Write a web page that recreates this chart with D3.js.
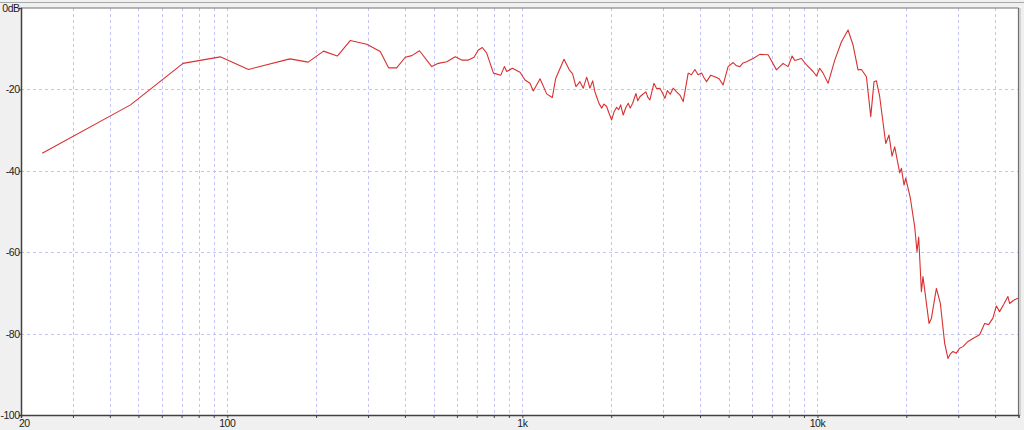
<!DOCTYPE html>
<html>
<head>
<meta charset="utf-8">
<script src="https://cdn.jsdelivr.net/npm/d3@7"></script>
<style>
html,body{margin:0;padding:0;background:#f0f0f0;}
svg{display:block;}
text{font-family:"Liberation Sans",Arial,sans-serif;font-size:10.5px;fill:#202020;letter-spacing:-0.5px;}
</style>
</head>
<body>
<svg id="chart" width="1024" height="430"></svg>
<script>
// ---- data ----
const freqHz = [23.6,47,70.8,94.7,118,163,188,212,236,261,297,330,352,375,401,422,448,493,519,555,592,623,656,686,709,732,757,798,845,869,885,925,982,1021,1061,1089,1148,1209,1263,1297,1384,1442,1480,1519,1567,1608,1652,1694,1731,1760,1785,1820,1857,1890,1930,1965,2007,2045,2087,2120,2153,2197,2240,2285,2320,2364,2426,2460,2502,2560,2622,2660,2705,2791,2850,2925,2980,3041,3100,3170,3244,3330,3419,3508,3647,3740,3842,3940,4049,4130,4209,4350,4490,4640,4790,4980,5180,5320,5458,5600,5750,6053,6376,6804,7263,7646,7952,8204,8378,8827,9180,9663,9922,10180,10447,10863,11445,12061,12695,13201,13725,14093,14653,15154,15547,15843,16252,17035,17476,17890,18270,19000,19250,19650,19910,20650,21350,21740,22030,22500,22780,23880,24320,25290,26090,26980,27680,28200,28780,29550,30300,31120,32300,33640,35440,36850,38000,39310,40370,41420,42800,44190,44780,46200,47790];
const levelDb = [-35.7,-23.8,-13.6,-12.0,-15.1,-12.5,-13.3,-10.6,-11.8,-8.0,-8.9,-10.7,-14.7,-14.7,-12.1,-11.7,-10.5,-14.4,-13.6,-13.2,-12.0,-12.8,-12.8,-12.1,-10.3,-9.7,-11.1,-16.0,-16.5,-14.4,-15.6,-14.8,-15.8,-17.7,-18.5,-20.4,-17.4,-21.1,-22.0,-17.3,-12.6,-15.2,-16.2,-19.3,-18.1,-19.7,-17.0,-19.7,-17.9,-20.5,-21.8,-23.5,-24.6,-23.6,-24.2,-25.8,-27.5,-25.5,-24.4,-25.0,-23.8,-26.3,-24.5,-23.4,-24.6,-23.4,-21.0,-22.8,-21.8,-21.2,-20.6,-21.9,-22.6,-18.5,-19.8,-19.7,-20.8,-22.2,-20.3,-21.2,-19.7,-20.6,-21.4,-23.0,-16.0,-16.4,-15.1,-16.4,-16.0,-17.2,-18.1,-16.5,-16.9,-17.4,-18.9,-14.4,-13.4,-14.2,-14.4,-13.5,-13.2,-12.4,-11.4,-11.5,-15.2,-13.6,-14.4,-11.8,-12.9,-12.4,-14.0,-15.6,-16.7,-14.8,-16.0,-18.5,-12.8,-8.3,-5.4,-9.1,-15.2,-15.1,-16.9,-26.7,-18.1,-17.9,-21.8,-33.3,-31.2,-36.4,-34.1,-40.5,-39.4,-43.5,-41.8,-46.8,-53.7,-59.9,-56.3,-69.7,-66.0,-77.5,-76.3,-68.9,-72.6,-82.4,-86.1,-85.0,-84.4,-84.8,-83.6,-83.2,-82.0,-81.2,-80.3,-77.5,-77.8,-76.2,-73.2,-74.6,-72.8,-70.9,-72.6,-71.8,-71.3];

const freqDomain = [20, 48000];
const dbDomain = [-100, 0];
const xGridValues = [30,40,50,60,70,80,90,100,200,300,400,500,600,700,800,900,1000,2000,3000,4000,5000,6000,7000,8000,9000,10000,20000,30000,40000];
const xLabelValues = [20,100,1000,10000];
const xLabelText = ["20","100","1k","10k"];
const yGridValues = [-20,-40,-60,-80];
const yLabelValues = [0,-20,-40,-60,-80,-100];
const yLabelText = ["0dB","-20","-40","-60","-80","-100"];

// ---- drawing ----
const svg = d3.select("#chart");
const L = 21, R = 1018.5, T = 8, B = 415;
const x = d3.scaleLog().domain(freqDomain).range([L, R]);
const y = d3.scaleLinear().domain(dbDomain).range([B, T]);

svg.append("rect").attr("x",0).attr("y",0).attr("width",1024).attr("height",430).attr("fill","#f0f0f0");
svg.append("line").attr("x1",0).attr("x2",1024).attr("y1",2.5).attr("y2",2.5).attr("stroke","#a8a8a8").attr("stroke-width",1);
svg.append("rect").attr("x",L).attr("y",T).attr("width",R-L).attr("height",B-T).attr("fill","#ffffff");

// grid
svg.append("g").selectAll("line").data(xGridValues).join("line")
  .attr("x1",d=>Math.round(x(d))+0.5).attr("x2",d=>Math.round(x(d))+0.5)
  .attr("y1",T).attr("y2",B)
  .attr("stroke","#c4c4f4").attr("stroke-width",1).attr("stroke-dasharray","3,3");
svg.append("g").selectAll("line").data(yGridValues).join("line")
  .attr("x1",L).attr("x2",R)
  .attr("y1",d=>Math.round(y(d))+0.5).attr("y2",d=>Math.round(y(d))+0.5)
  .attr("stroke","#c4c4f4").attr("stroke-width",1).attr("stroke-dasharray","3,3");

// curve
const line = d3.line().x((d,i)=>x(freqHz[i])).y((d,i)=>y(levelDb[i]));
svg.append("path").datum(levelDb).attr("d",line)
  .attr("fill","none").attr("stroke","#d83030").attr("stroke-width",1.1).attr("stroke-linejoin","round");

// frame
svg.append("line").attr("x1",L).attr("x2",R).attr("y1",T).attr("y2",T).attr("stroke","#707070").attr("stroke-width",1.2);
svg.append("line").attr("x1",R).attr("x2",R).attr("y1",T).attr("y2",B).attr("stroke","#707070").attr("stroke-width",1.2);
svg.append("line").attr("x1",R+1.5).attr("x2",R+1.5).attr("y1",T).attr("y2",B+1).attr("stroke","#b8b8b8").attr("stroke-width",1);

// x axis
const xAxis = d3.axisBottom(x).tickValues(xGridValues.concat([20])).tickSize(3).tickFormat("");
const gx = svg.append("g").attr("transform",`translate(0,${B})`).call(xAxis);
gx.select(".domain").attr("stroke","#404040").attr("stroke-width",1.5);
gx.selectAll(".tick line").attr("stroke","#404040");
svg.append("g").selectAll("text").data(xLabelValues).join("text")
  .attr("x",(d,i)=> i===0 ? x(d)-2 : x(d))
  .attr("y",427)
  .attr("text-anchor",(d,i)=> i===0 ? "start" : "middle")
  .text((d,i)=>xLabelText[i]);

// y axis
const yAxis = d3.axisLeft(y).tickValues(yLabelValues).tickSize(2).tickFormat("");
const gy = svg.append("g").attr("transform",`translate(${L},0)`).call(yAxis);
gy.select(".domain").attr("stroke","#404040").attr("stroke-width",1.5);
gy.selectAll(".tick line").attr("stroke","#404040");
svg.append("g").selectAll("text").data(yLabelValues).join("text")
  .attr("x",19.5).attr("y",d=>y(d)+4)
  .attr("text-anchor","end")
  .text((d,i)=>yLabelText[i]);
</script>
</body>
</html>
